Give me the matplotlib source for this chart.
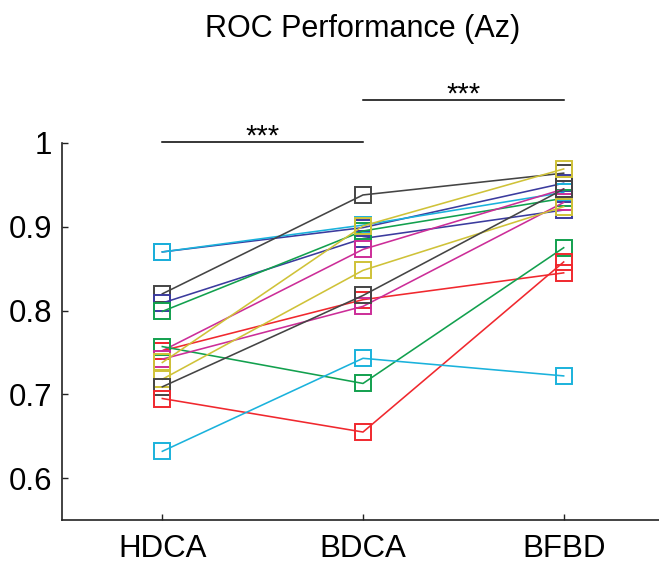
import matplotlib
matplotlib.use('Agg')
import matplotlib.pyplot as plt

plt.rcParams['font.family'] = ['Liberation Sans', 'DejaVu Sans']

conditions = ['HDCA', 'BDCA', 'BFBD']

# one subject per row: Az for HDCA, BDCA, BFBD
blue1 = [0.870, 0.899, 0.952]
cyan1 = [0.870, 0.902, 0.941]
gray1 = [0.820, 0.938, 0.964]
blue2 = [0.809, 0.886, 0.920]
green1 = [0.799, 0.895, 0.934]
magenta1 = [0.752, 0.873, 0.945]
red1 = [0.752, 0.813, 0.845]
green2 = [0.757, 0.713, 0.875]
magenta2 = [0.742, 0.805, 0.929]
yellow1 = [0.738, 0.901, 0.969]
yellow2 = [0.718, 0.848, 0.924]
gray2 = [0.709, 0.818, 0.945]
red2 = [0.695, 0.655, 0.858]
cyan2 = [0.632, 0.743, 0.722]

subjects = [blue1, cyan1, gray1, blue2, green1, magenta1, red1,
            green2, magenta2, yellow1, yellow2, gray2, red2, cyan2]
colors = ['#3b3b9e', '#1ab2dc', '#444444', '#3b3b9e', '#12a04e', '#cc2d98',
          '#f0282e', '#12a04e', '#cc2d98', '#cfc238', '#cfc238', '#444444',
          '#f0282e', '#1ab2dc']

fig = plt.figure(figsize=(6.59, 5.64), dpi=100)
ax = fig.add_axes([62 / 659, 44 / 564, 602 / 659, 377 / 564])

x = [1, 2, 3]
for vals, c in zip(subjects, colors):
    ax.plot(x, vals, '-', color=c, lw=1.15, marker='s', ms=11.5,
            mfc='none', mec=c, mew=1.4, clip_on=False)

# significance bars
ax.plot([1, 2], [1.001, 1.001], color='black', lw=1.1, clip_on=False)
ax.plot([2, 3], [1.051, 1.051], color='black', lw=1.1, clip_on=False)
ax.text(1.5, 0.998, '***', ha='center', va='baseline', fontsize=21)
ax.text(2.5, 1.048, '***', ha='center', va='baseline', fontsize=21)

ax.set_xlim(0.5, 3.5)
ax.set_ylim(0.55, 1.0)
ax.set_xticks(x)
ax.set_xticklabels(conditions)
ax.set_yticks([0.6, 0.7, 0.8, 0.9, 1.0])
ax.set_yticklabels(['0.6', '0.7', '0.8', '0.9', '1'])
ax.tick_params(direction='in', length=4, width=1, labelsize=22.5,
               color='#222222')
ax.tick_params(axis='y', pad=7)
ax.tick_params(axis='x', pad=10)
for s in ['top', 'right']:
    ax.spines[s].set_visible(False)
for s in ['left', 'bottom']:
    ax.spines[s].set_linewidth(1.2)
    ax.spines[s].set_color('#222222')

ax.set_title('ROC Performance (Az)', fontsize=22, pad=76)

fig.savefig('out.png', dpi=100)
